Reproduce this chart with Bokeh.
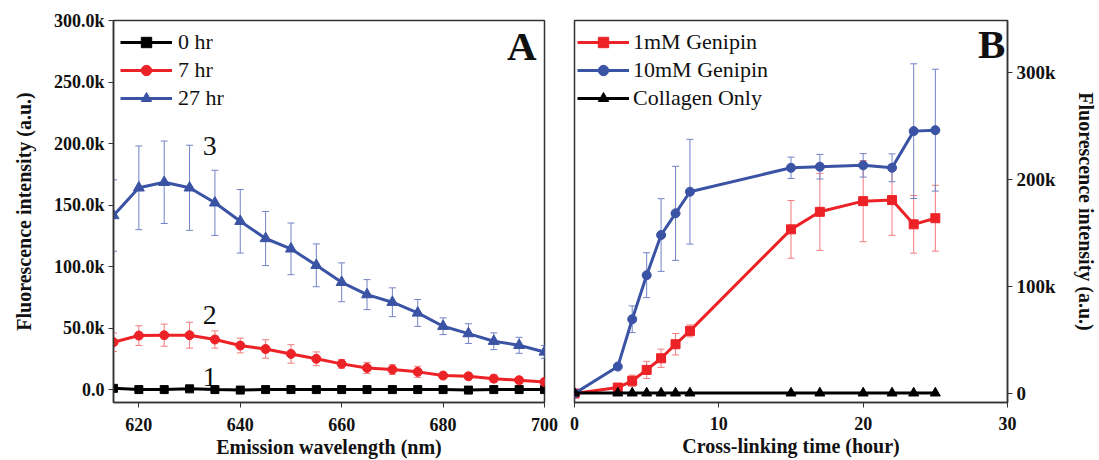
from bokeh.plotting import figure
from bokeh.layouts import row
from bokeh.models import (ColumnDataSource, Whisker, TeeHead, Legend, LegendItem,
                          FixedTicker, Label, Range1d)
from bokeh.embed import file_html
from bokeh.resources import INLINE

# ---------------- data: panel A (values in thousands of a.u.) ----------------
wavelength = [615, 620, 625, 630, 635, 640, 645, 650, 655, 660, 665, 670, 675, 680, 685, 690, 695, 700]
hr0 = [1.0, 0.0, 0.0, 0.6, 0.0, -0.4, 0.0, 0.0, 0.0, 0.0, 0.0, 0.0, 0.0, 0.0, -0.4, 0.0, 0.0, 0.0]
hr7 = [38.5, 43.9, 44.2, 44.2, 40.7, 35.8, 33.0, 29.0, 25.0, 20.9, 17.6, 16.3, 14.4, 11.4, 10.8, 8.9, 7.6, 6.2]
hr7_err = [7.5, 8.0, 9.0, 10.5, 7.0, 6.0, 7.5, 7.5, 5.6, 3.5, 4.5, 4.0, 4.5, 2.0, 2.7, 3.0, 2.5, 2.0]
hr27 = [141.5, 164.0, 168.5, 164.0, 151.8, 136.8, 122.8, 114.4, 101.0, 87.2, 77.2, 71.0, 62.3, 51.5, 45.5, 39.3, 36.0, 30.6]
hr27_err = [29.0, 34.0, 33.5, 34.6, 26.5, 25.8, 22.0, 21.0, 17.4, 15.8, 12.2, 11.7, 10.9, 6.8, 8.0, 6.8, 6.5, 5.2]
a_xticks = [620, 640, 660, 680, 700]
a_yticks = [0, 50, 100, 150, 200, 250, 300]
a_ylabels = ["0.0", "50.0k", "100.0k", "150.0k", "200.0k", "250.0k", "300.0k"]
a_series = ["0 hr", "7 hr", "27 hr"]
a_curve_ids = ["1", "2", "3"]
a_curve_pos = [(634, 10.6), (634, 61.0), (634, 197.6)]

# ---------------- data: panel B ----------------
times = [0, 3, 4, 5, 6, 7, 8, 15, 17, 20, 22, 23.5, 25]
mm1 = [0.0, 5.6, 11.9, 22.1, 33.0, 46.1, 58.6, 153.6, 170.0, 180.0, 181.0, 158.3, 164.0]
mm1_err = [0.0, 0.0, 5.3, 8.0, 8.5, 10.0, 5.6, 27.0, 36.0, 38.0, 33.0, 27.0, 30.8]
mm10 = [0.0, 25.2, 69.5, 110.7, 148.3, 168.6, 188.8, 211.2, 212.2, 213.5, 211.2, 245.5, 246.4]
mm10_err = [0.0, 0.0, 12.5, 21.0, 34.0, 44.0, 49.0, 10.0, 11.5, 11.0, 13.0, 63.0, 57.0]
collagen = [0.4, 0.4, 0.4, 0.4, 0.4, 0.4, 0.4, 0.4, 0.4, 0.4, 0.4, 0.4, 0.4]
b_xticks = [0, 10, 20, 30]
b_yticks = [0, 100, 200, 300]
b_ylabels = ["0", "100k", "200k", "300k"]
b_series = ["1mM Genipin", "10mM Genipin", "Collagen Only"]

SERIF = "'Liberation Serif', 'Times New Roman', serif"
BLUE = "#3a53a4"
RED = "#ec2227"
BLUE_ERR = "#7383c6"
RED_ERR = "#f27a7d"
FRAME = "#333333"


def style_axis(ax, label_size="20px", tick_size="18px"):
    ax.axis_label_text_font = SERIF
    ax.axis_label_text_font_style = "bold"
    ax.axis_label_text_font_size = label_size
    ax.major_label_text_font = SERIF
    ax.major_label_text_font_style = "bold"
    ax.major_label_text_font_size = tick_size
    ax.major_label_text_color = "#111111"
    ax.axis_label_text_color = "#111111"
    ax.minor_tick_line_color = None
    ax.major_tick_out = 5
    ax.major_tick_in = 0
    ax.axis_line_color = FRAME
    ax.major_tick_line_color = FRAME
    ax.axis_line_width = 1.5


def base_fig(**kw):
    p = figure(output_backend="svg", toolbar_location=None, **kw)
    p.xgrid.visible = False
    p.ygrid.visible = False
    p.outline_line_color = FRAME
    p.outline_line_width = 1.5
    p.outline_line_alpha = 1.0
    p.background_fill_color = "white"
    p.border_fill_color = "white"
    return p


def add_err(p, x, y, err, color):
    src = ColumnDataSource(dict(x=x, up=[a + b for a, b in zip(y, err)],
                                lo=[a - b for a, b in zip(y, err)]))
    w = Whisker(base="x", upper="up", lower="lo", source=src, dimension="height",
                line_color=color, line_width=1,
                upper_head=TeeHead(size=7, line_color=color, line_width=1),
                lower_head=TeeHead(size=7, line_color=color, line_width=1))
    p.add_layout(w)


def style_legend(lg):
    lg.border_line_color = None
    lg.background_fill_alpha = 0
    lg.label_text_font = SERIF
    lg.label_text_font_style = "normal"
    lg.label_text_font_size = "22px"
    lg.label_text_color = "#111111"
    lg.glyph_width = 52
    lg.glyph_height = 26
    lg.label_height = 26
    lg.spacing = 2
    lg.label_standoff = 6
    lg.padding = 0
    lg.margin = 0


# ---------------- Panel A ----------------
pA = base_fig(width=559, height=460, x_range=Range1d(615, 700), y_range=Range1d(-10.5, 300),
              min_border_left=113, min_border_right=15, min_border_top=20, min_border_bottom=58)
add_err(pA, wavelength, hr7, hr7_err, RED_ERR)
add_err(pA, wavelength, hr27, hr27_err, BLUE_ERR)

la0 = pA.line(wavelength, hr0, line_color="black", line_width=3)
sa0 = pA.scatter(wavelength, hr0, marker="square", size=8, color="black")
la1 = pA.line(wavelength, hr7, line_color=RED, line_width=3)
sa1 = pA.scatter(wavelength, hr7, marker="circle", size=9, color=RED)
la2 = pA.line(wavelength, hr27, line_color=BLUE, line_width=3)
sa2 = pA.scatter(wavelength, hr27, marker="triangle", size=11, color=BLUE)

legA = Legend(items=[LegendItem(label=a_series[0], renderers=[la0, sa0]),
                     LegendItem(label=a_series[1], renderers=[la1, sa1]),
                     LegendItem(label=a_series[2], renderers=[la2, sa2])],
              location=(7, 291))
style_legend(legA)
pA.add_layout(legA)

pA.xaxis.ticker = FixedTicker(ticks=a_xticks)
pA.yaxis.ticker = FixedTicker(ticks=a_yticks)
pA.yaxis.major_label_overrides = {t: s for t, s in zip(a_yticks, a_ylabels)}
pA.xaxis.axis_label = "Emission wavelength (nm)"
pA.yaxis.axis_label = "Fluorescence intensity (a.u.)"
style_axis(pA.xaxis)
style_axis(pA.yaxis)
pA.xaxis.major_label_standoff = 10
pA.xaxis.axis_label_standoff = 2
pA.yaxis.major_label_standoff = 4
pA.yaxis.axis_label_standoff = 16

for cid, (cx, cy) in zip(a_curve_ids, a_curve_pos):
    pA.add_layout(Label(x=cx, y=cy, text=cid, text_font=SERIF, text_font_size="28px",
                        text_align="center", text_baseline="middle", text_color="#111111"))
pA.add_layout(Label(x=695.5, y=279, text="A", text_font=SERIF, text_font_size="41px",
                    text_font_style="bold", text_align="center", text_baseline="middle",
                    text_color="#111111"))

# ---------------- Panel B ----------------
pB = base_fig(width=540, height=460, x_range=Range1d(0, 30), y_range=Range1d(-8.4, 349),
              y_axis_location="right",
              min_border_left=15, min_border_right=88, min_border_top=20, min_border_bottom=58)
add_err(pB, times, mm1, mm1_err, RED_ERR)
add_err(pB, times, mm10, mm10_err, BLUE_ERR)

lb0 = pB.line(times, mm1, line_color=RED, line_width=3)
sb0 = pB.scatter(times, mm1, marker="square", size=9, color=RED)
lb1 = pB.line(times, mm10, line_color=BLUE, line_width=3)
sb1 = pB.scatter(times, mm10, marker="circle", size=9, color=BLUE)
lb2 = pB.line(times, collagen, line_color="black", line_width=3)
sb2 = pB.scatter(times, collagen, marker="triangle", size=10, color="black")

legB = Legend(items=[LegendItem(label=b_series[0], renderers=[lb0, sb0]),
                     LegendItem(label=b_series[1], renderers=[lb1, sb1]),
                     LegendItem(label=b_series[2], renderers=[lb2, sb2])],
              location=(3, 291))
style_legend(legB)
legB.label_standoff = 4
pB.add_layout(legB)

pB.xaxis.ticker = FixedTicker(ticks=b_xticks)
pB.yaxis.ticker = FixedTicker(ticks=b_yticks)
pB.yaxis.major_label_overrides = {t: s for t, s in zip(b_yticks, b_ylabels)}
pB.xaxis.axis_label = "Cross-linking time (hour)"
pB.yaxis.axis_label = "Fluorescence intensity (a.u.)"
style_axis(pB.xaxis)
style_axis(pB.yaxis, tick_size="19px")
pB.xaxis.major_label_standoff = 9
pB.xaxis.axis_label_standoff = 2
pB.yaxis.major_label_standoff = 4
pB.yaxis.axis_label_standoff = 16

pB.add_layout(Label(x=28.9, y=326.8, text="B", text_font=SERIF, text_font_size="41px",
                    text_font_style="bold", text_align="center", text_baseline="middle",
                    text_color="#111111"))

layout = row(pA, pB, spacing=0)
open("out.html", "w").write(file_html(layout, INLINE))
